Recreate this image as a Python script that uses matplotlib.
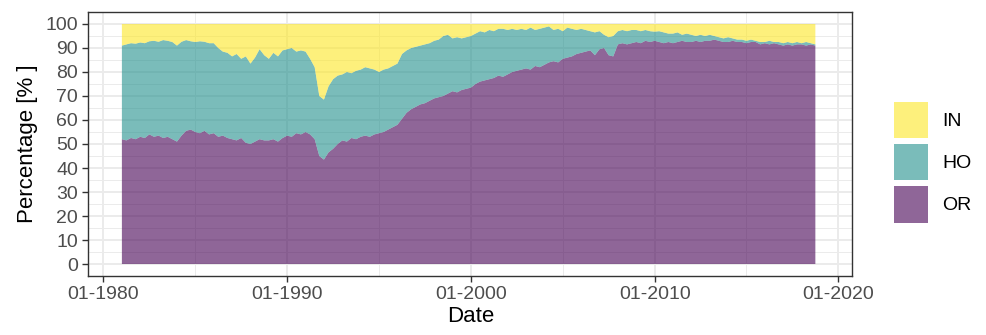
import numpy as np
import pandas as pd
import matplotlib
matplotlib.use("Agg")
import matplotlib.pyplot as plt
import matplotlib.dates as mdates
from matplotlib.ticker import MultipleLocator
from matplotlib.patches import Patch

plt.rcParams['font.family'] = ['Liberation Sans', 'DejaVu Sans']

# quarterly readings, 1981 Q1 .. 2018 Q4 (one row per year)
or_pct = [
    52.0, 51.5, 52.5, 52.0,
    53.0, 52.5, 54.0, 53.0,
    53.5, 52.5, 53.0, 52.0,
    51.0, 53.5, 55.5, 56.0,
    55.0, 54.5, 55.5, 54.0,
    54.5, 53.0, 53.5, 52.5,
    52.0, 51.5, 52.5, 50.5,
    50.0, 51.0, 52.0, 51.5,
    51.5, 52.0, 51.0, 52.5,
    53.5, 53.0, 54.5, 54.0,
    55.0, 54.0, 52.0, 45.0,
    43.5, 46.5, 48.0, 50.0,
    51.5, 51.0, 52.5, 52.0,
    53.0, 53.5, 53.0, 54.0,
    54.5, 55.0, 56.0, 57.0,
    58.0, 60.5, 63.0, 64.5,
    65.5, 66.5, 67.0, 68.0,
    69.0, 69.5, 70.0, 71.0,
    72.0, 71.5, 72.5, 73.0,
    73.5, 75.0, 76.0, 76.5,
    77.0, 77.5, 78.5, 78.0,
    79.0, 80.0, 80.5, 81.0,
    81.5, 81.0, 82.5, 82.0,
    83.0, 84.0, 84.5, 84.0,
    85.5, 86.0, 86.5, 87.5,
    88.0, 88.5, 89.0, 87.0,
    89.5, 90.0, 87.0, 86.5,
    91.5, 92.0, 91.5, 92.0,
    92.5, 92.0, 93.0, 92.5,
    93.0, 92.5, 92.0, 92.5,
    92.0, 92.5, 93.0, 92.5,
    92.5, 93.0, 92.5, 93.0,
    93.0, 93.5, 93.0, 92.5,
    92.5, 93.0, 92.5, 92.5,
    92.0, 92.5, 92.5, 91.5,
    92.0, 91.5, 92.0, 91.5,
    91.0, 91.5, 91.0, 91.5,
    91.5, 91.0, 91.5, 91.0,
]

# upper edge of the HO band (OR + HO)
or_ho_pct = [
    91.0, 91.5, 92.0, 91.8,
    92.3, 92.0, 92.8, 93.0,
    92.6, 93.3, 93.0, 92.5,
    91.0, 92.6, 93.3, 92.8,
    92.5, 92.8, 92.6, 92.0,
    92.0, 90.0, 88.5, 88.0,
    86.5, 87.5, 85.5, 86.5,
    83.5, 86.0, 89.5, 87.0,
    85.5, 88.0, 86.5, 89.0,
    89.5, 90.0, 88.5, 89.0,
    88.5, 85.5, 82.0, 70.0,
    68.5, 74.0, 77.0, 78.5,
    79.0, 80.0, 79.5, 80.5,
    81.0, 82.0, 81.5, 81.0,
    80.0, 81.0, 81.5, 82.5,
    83.5, 87.5, 89.0, 90.0,
    90.5, 91.0, 91.5, 92.0,
    93.0, 93.5, 95.0, 95.5,
    94.0, 94.5, 94.0, 94.5,
    95.0, 96.0, 97.0, 96.5,
    97.5, 97.0, 98.0, 98.0,
    97.5, 98.0, 97.5, 98.0,
    97.5, 98.5, 97.5, 98.0,
    98.5, 99.0, 97.5, 98.0,
    97.0, 98.5, 98.0, 97.5,
    98.0, 97.5, 97.0, 96.5,
    97.0, 95.5, 94.5, 95.0,
    97.0, 97.5, 97.0, 97.5,
    97.5, 97.0, 97.5, 97.0,
    96.8, 97.0, 96.5, 96.0,
    96.0, 96.5, 95.5, 96.0,
    95.5, 95.0, 95.5, 95.0,
    95.5, 95.0, 94.5, 94.0,
    94.5, 94.0, 93.5, 93.5,
    93.0, 93.5, 93.0, 92.5,
    92.5, 93.0, 92.5, 92.5,
    92.0, 92.5, 92.0, 92.5,
    92.0, 92.5, 92.0, 91.5,
]

labels = ['OR', 'HO', 'IN']
colors = ['#440154', '#21908C', '#FDE725']
alpha = 0.6

dates = pd.date_range('1981-01-01', periods=len(or_pct), freq='QS')
or_arr = np.array(or_pct)
ho_arr = np.array(or_ho_pct) - or_arr
in_arr = 100 - np.array(or_ho_pct)

fig = plt.figure(figsize=(9.87, 3.35), dpi=100)
ax = fig.add_axes([0.0895, 0.1761, 0.8635 - 0.0895, 0.9642 - 0.1761])

ax.stackplot(dates, or_arr, ho_arr, in_arr, colors=colors, alpha=alpha,
             linewidth=0)

ax.set_xlim(pd.Timestamp('1979-03-06'), pd.Timestamp('2020-10-04'))
ax.set_ylim(-5, 105)

ax.xaxis.set_major_locator(mdates.YearLocator(10))
ax.xaxis.set_minor_locator(mdates.YearLocator(5))
ax.xaxis.set_major_formatter(mdates.DateFormatter('%m-%Y'))
ax.yaxis.set_major_locator(MultipleLocator(10))
ax.yaxis.set_minor_locator(MultipleLocator(5))

ax.set_axisbelow(True)
ax.grid(which='major', color='#EBEBEB', linewidth=1.4)
ax.grid(which='minor', color='#EBEBEB', linewidth=0.7)

for s in ax.spines.values():
    s.set_color('#333333')
    s.set_linewidth(1.0)

ax.tick_params(which='major', length=4.5, width=1.0, color='#333333',
               labelsize=14, labelcolor='#4D4D4D', pad=3)
ax.tick_params(which='minor', length=0)

ax.set_xlabel('Date', fontsize=16, labelpad=2)
ax.set_ylabel('Percentage [% ]', fontsize=16, labelpad=5)

handles = [Patch(facecolor=c, alpha=alpha, edgecolor='none', label=l)
           for c, l in zip(colors, labels)]
fig.legend(handles[::-1], labels[::-1], loc='center left',
           bbox_to_anchor=(0.906, 0.516), frameon=False, fontsize=14,
           handlelength=1.72, handleheight=2.5, labelspacing=0.3,
           handletextpad=0.75, borderpad=0, borderaxespad=0)

fig.savefig('out.png', dpi=100)
